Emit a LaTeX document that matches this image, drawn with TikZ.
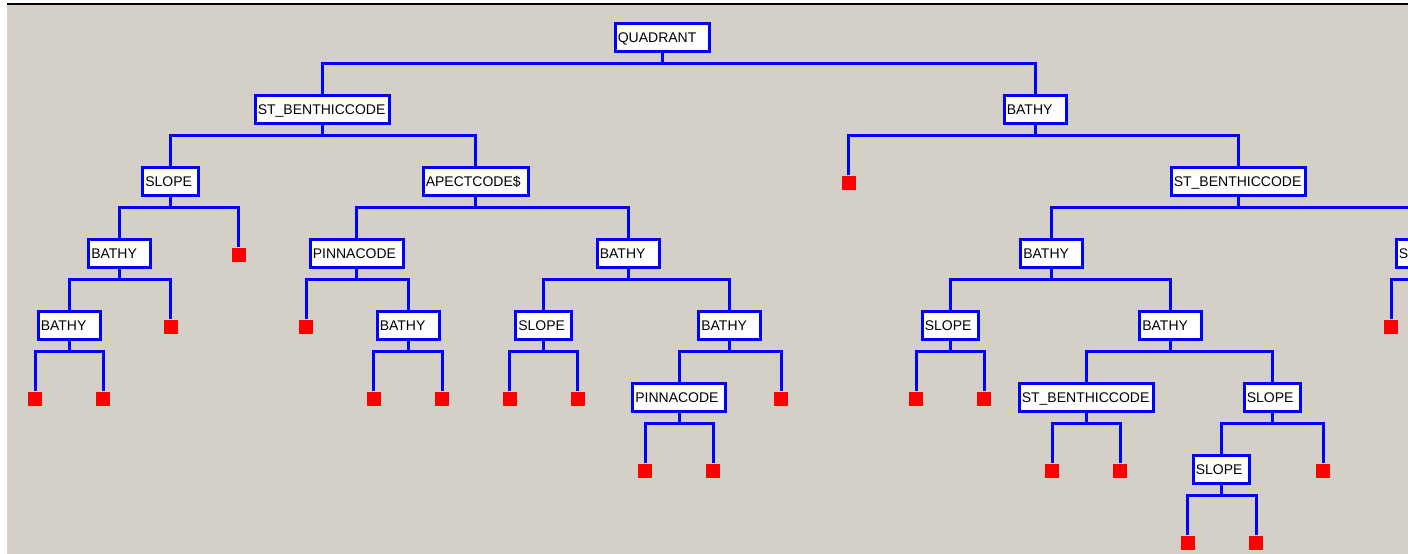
\documentclass[tikz,border=0pt]{standalone}
\usepackage{fontspec}
\setmainfont{Liberation Sans}
\definecolor{winbg}{HTML}{D4D0C8}
\definecolor{treeblue}{HTML}{0000FF}
\definecolor{leafred}{HTML}{FF0000}
\newcommand\mkfork[3]{%
  \draw[conn] (#1.south) -- ++(0,10.5) coordinate (#1b);
  \draw[conn] (#2.north) |- (#1b) -| (#3.north);}
\begin{document}
\begin{tikzpicture}[x=1pt,y=-1pt,
  tn/.style={draw=treeblue, fill=white, line width=3pt, minimum height=28pt,
    inner xsep=2.8pt, inner ysep=0pt, text height=10pt, text depth=0.5pt,
    align=left, font=\fontsize{14}{15}\selectfont},
  wq/.style={tn, text width=88.4pt},
  wsb/.style={tn, text width=128.4pt},
  wba/.style={tn, text width=56.4pt},
  wsl/.style={tn, text width=50.4pt},
  wap/.style={tn, text width=99.4pt},
  wpi/.style={tn, text width=87.4pt},
  leaf/.style={fill=leafred, minimum size=14pt, inner sep=0pt},
  conn/.style={draw=treeblue, line width=3pt}]
\useasboundingbox (0,0) rectangle (1408,554);
\fill[white] (0,0) rectangle (1408,554);
\fill[winbg] (7,4) rectangle (1408,554);
\draw[black, line width=1.5pt] (7,4) -- (1408,4);
\begin{scope}
\clip (7,5) rectangle (1408,554);
% level y: 37.5 109.5 181.5 253.5 325.5 397.5 469.5 541.5
\node[wq] (q) at (662,37.5) {QUADRANT};
\node[wsb] (sb1) at (322,109.5) {ST\_BENTHICCODE};
\node[wba] (ba1) at (1035,109.5) {BATHY};
\node[wsl] (sl2) at (170.5,181.5) {SLOPE};
\node[wap] (ap2) at (475.5,181.5) {APECTCODE\$};
\node[leaf] (lfa) at (848.7,182.5) {};
\node[wsb] (sb2) at (1238,181.5) {ST\_BENTHICCODE};
\node[wba] (ba3a) at (119.5,253.5) {BATHY};
\node[leaf] (lfb) at (238.5,254.5) {};
\node[wpi] (pi3) at (356.5,253.5) {PINNACODE};
\node[wba] (ba3b) at (628,253.5) {BATHY};
\node[wba] (ba3c) at (1051.5,253.5) {BATHY};
\node[wsl] (sl3) at (1424,253.5) {SLOPE};
\node[wba] (ba4a) at (69,325.5) {BATHY};
\node[leaf] (lfc) at (170.5,326.5) {};
\node[leaf] (lfd) at (306,326.5) {};
\node[wba] (ba4b) at (408,325.5) {BATHY};
\node[wsl] (sl4a) at (543.5,325.5) {SLOPE};
\node[wba] (ba4c) at (729.5,325.5) {BATHY};
\node[wsl] (sl4b) at (950,325.5) {SLOPE};
\node[wba] (ba4d) at (1170.5,325.5) {BATHY};
\node[leaf] (lfe) at (1391,326.5) {};
\node[leaf] (lff) at (1457,326.5) {};
\node[leaf] (l5a) at (35,398.5) {};
\node[leaf] (l5b) at (103,398.5) {};
\node[leaf] (l5c) at (373.5,398.5) {};
\node[leaf] (l5d) at (442,398.5) {};
\node[leaf] (l5e) at (509.5,398.5) {};
\node[leaf] (l5f) at (577.5,398.5) {};
\node[wpi] (pi5) at (679,397.5) {PINNACODE};
\node[leaf] (l5g) at (781,398.5) {};
\node[leaf] (l5h) at (916,398.5) {};
\node[leaf] (l5i) at (984,398.5) {};
\node[wsb] (sb5) at (1086,397.5) {ST\_BENTHICCODE};
\node[wsl] (sl5) at (1272,397.5) {SLOPE};
\node[leaf] (l6a) at (645,470.5) {};
\node[leaf] (l6b) at (713,470.5) {};
\node[leaf] (l6c) at (1052,470.5) {};
\node[leaf] (l6d) at (1120,470.5) {};
\node[wsl] (sl6) at (1221,469.5) {SLOPE};
\node[leaf] (l6e) at (1323,470.5) {};
\node[leaf] (l7a) at (1187.5,542.5) {};
\node[leaf] (l7b) at (1256,542.5) {};
% connectors
\mkfork{q}{sb1}{ba1}
\mkfork{sb1}{sl2}{ap2}
\mkfork{ba1}{lfa}{sb2}
\mkfork{sl2}{ba3a}{lfb}
\mkfork{ap2}{pi3}{ba3b}
\mkfork{sb2}{ba3c}{sl3}
\mkfork{ba3a}{ba4a}{lfc}
\mkfork{pi3}{lfd}{ba4b}
\mkfork{ba3b}{sl4a}{ba4c}
\mkfork{ba3c}{sl4b}{ba4d}
\mkfork{sl3}{lfe}{lff}
\mkfork{ba4a}{l5a}{l5b}
\mkfork{ba4b}{l5c}{l5d}
\mkfork{sl4a}{l5e}{l5f}
\mkfork{ba4c}{pi5}{l5g}
\mkfork{sl4b}{l5h}{l5i}
\mkfork{ba4d}{sb5}{sl5}
\mkfork{pi5}{l6a}{l6b}
\mkfork{sb5}{l6c}{l6d}
\mkfork{sl5}{sl6}{l6e}
\mkfork{sl6}{l7a}{l7b}
\end{scope}
\end{tikzpicture}
\end{document}
